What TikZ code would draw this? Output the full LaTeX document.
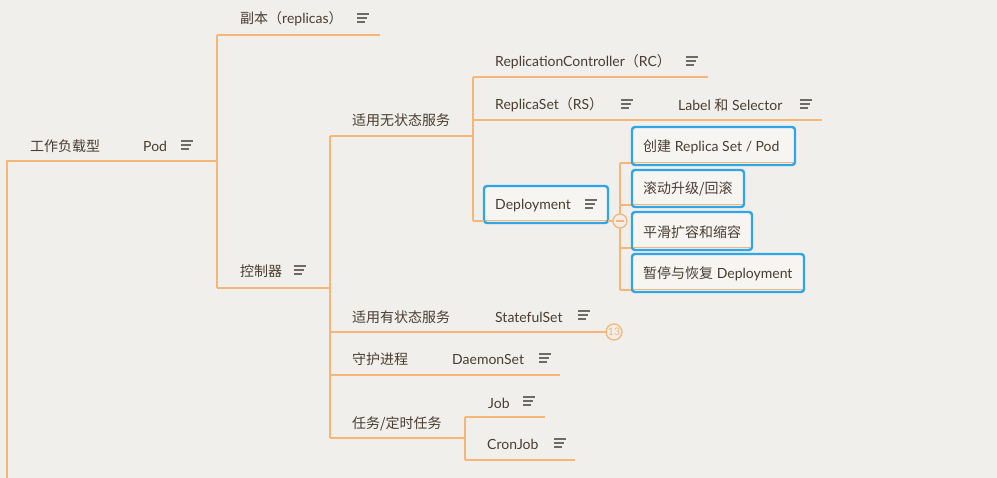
\documentclass[tikz,border=0pt]{standalone}
\usepackage{fontspec}
\setmainfont{Lato}
\newfontfamily\cjk{Noto Sans CJK SC}
\usetikzlibrary{calc}
\definecolor{bg}{HTML}{F0EFEB}
\definecolor{br}{HTML}{F7B676}
\definecolor{ink}{HTML}{4A3D31}
\definecolor{bl}{HTML}{2FA6E6}
\definecolor{ic}{HTML}{6E6A66}
\definecolor{bf}{HTML}{F6F5F2}
\tikzset{
  t/.style={anchor=west, inner sep=0pt, text=ink, font=\fontsize{14}{16}\selectfont, yshift=-1pt},
  ln/.style={draw=br, line width=1.6pt},
  bbox/.style={draw=bl, fill=bf, line width=2.4pt, rounded corners=3pt},
  noteicon/.pic={\draw[ic, line width=1.3pt] (-6,-4)--(6,-4) (-6,0)--(4,0) (-6,4)--(2,4);},
}
\begin{document}
\begin{tikzpicture}[x=1pt,y=-1pt]
\useasboundingbox (0,0) rectangle (997,478);
\fill[bg] (0,0) rectangle (997,478);

% junction coordinates
\coordinate (r0) at (7,478);
\coordinate (r1) at (7,161);
\coordinate (j1) at (217,161);
\coordinate (j1t) at (217,35);
\coordinate (j1b) at (217,288);
\coordinate (e1) at (380,35);
\coordinate (j2) at (330,288);
\coordinate (j2t) at (330,136);
\coordinate (j2b) at (330,438);
\coordinate (j3) at (473,136);
\coordinate (j3t) at (473,77);
\coordinate (j3b) at (473,221);
\coordinate (eRC) at (708,77);
\coordinate (eRS) at (822,120);
\coordinate (j3m) at (473,120);
\coordinate (eSS) at (606,332);
\coordinate (jSS) at (330,332);
\coordinate (eDS) at (560,375);
\coordinate (jDS) at (330,375);
\coordinate (j4) at (465,438);
\coordinate (j4t) at (465,417);
\coordinate (j4b) at (465,460);
\coordinate (eJob) at (545,417);
\coordinate (eCron) at (575,460);

% tree lines
\draw[ln] (r0) -- (r1) -- (j1);
\draw[ln] (j1t) -- (j1b);
\draw[ln] (j1t) -- (e1);
\draw[ln] (j1b) -- (j2);
\draw[ln] (j2t) -- (j2b);
\draw[ln] (j2t) -- (j3);
\draw[ln] (j3t) -- (j3b);
\draw[ln] (j3t) -- (eRC);
\draw[ln] (j3m) -- (eRS);
\draw[ln] (jSS) -- (eSS);
\draw[ln] (jDS) -- (eDS);
\draw[ln] (j2b) -- (j4);
\draw[ln] (j4t) -- (j4b);
\draw[ln] (j4t) -- (eJob);
\draw[ln] (j4b) -- (eCron);

% Deployment branch
\coordinate (cc) at (620,221);
\draw[ln] (620,163) -- (620,290);
\foreach \y in {163,205,248,290} \draw[ln] (620,\y) -- (633,\y);

% Deployment box
\draw[bbox] (484,186) rectangle (608,223);
\draw[ln] (486,220.5) -- (606,220.5);
\node[t] (dep) at (495,205) {Deployment};
\pic at (591,204) {noteicon};
\draw[ln] (j3b) -- (484,221);
\draw[ln] (608,221) -- (cc);

% collapse circle
\node[circle, draw=br, line width=1.3pt, fill=bg, minimum size=14pt, inner sep=0pt] (col) at (cc) {};
\draw[br, line width=1.2pt] ($(col.center)+(-4,0)$) -- ($(col.center)+(4,0)$);

% child boxes
\draw[bbox] (632,127) rectangle (795,165);
\draw[ln] (634,162.5) -- (793,162.5);
\node[t] (d1) at (643,146) {{\cjk 创建} Replica Set / Pod};
\draw[bbox] (632,170) rectangle (744,207);
\draw[ln] (634,204.5) -- (742,204.5);
\node[t] (d2) at (643,188) {\cjk 滚动升级/回滚};
\draw[bbox] (632,212) rectangle (752,250);
\draw[ln] (634,247.5) -- (750,247.5);
\node[t] (d3) at (643,231) {\cjk 平滑扩容和缩容};
\draw[bbox] (632,254) rectangle (804,292);
\draw[ln] (634,289.5) -- (802,289.5);
\node[t] (d4) at (643,273) {{\cjk 暂停与恢复} Deployment};

% texts
\node[t] (wl) at (30,145) {\cjk 工作负载型};
\node[t] (pod) at (143,145) {Pod};
\pic at (187,145) {noteicon};
\node[t] (rep) at (240,18) {{\cjk 副本（}replicas{\cjk ）}};
\pic at (363,18) {noteicon};
\node[t] (ctl) at (240,270) {\cjk 控制器};
\pic at (300,270) {noteicon};
\node[t] (sl) at (352,119) {\cjk 适用无状态服务};
\node[t] (rc) at (495,61) {ReplicationController{\cjk （}RC{\cjk ）}};
\pic at (692,61) {noteicon};
\node[t] (rs) at (495,104) {ReplicaSet{\cjk （}RS{\cjk ）}};
\pic at (627,104) {noteicon};
\node[t] (lab) at (678,104) {Label {\cjk 和} Selector};
\pic at (806,104) {noteicon};
\node[t] (sf) at (352,316) {\cjk 适用有状态服务};
\node[t] (ss) at (495,316) {StatefulSet};
\pic at (584,315) {noteicon};
\node[circle, draw=br, line width=1.3pt, fill=bg, minimum size=16pt, inner sep=0pt, text=br, font=\fontsize{10.5}{11}\selectfont] (n13) at (614,332) {13};
\node[t] (dm) at (352,358) {\cjk 守护进程};
\node[t] (ds) at (452,358) {DaemonSet};
\pic at (545,358) {noteicon};
\node[t] (task) at (352,423) {\cjk 任务/定时任务};
\node[t] (job) at (488,402) {Job};
\pic at (529,401) {noteicon};
\node[t] (cron) at (487,443) {CronJob};
\pic at (560,443) {noteicon};
\end{tikzpicture}
\end{document}
